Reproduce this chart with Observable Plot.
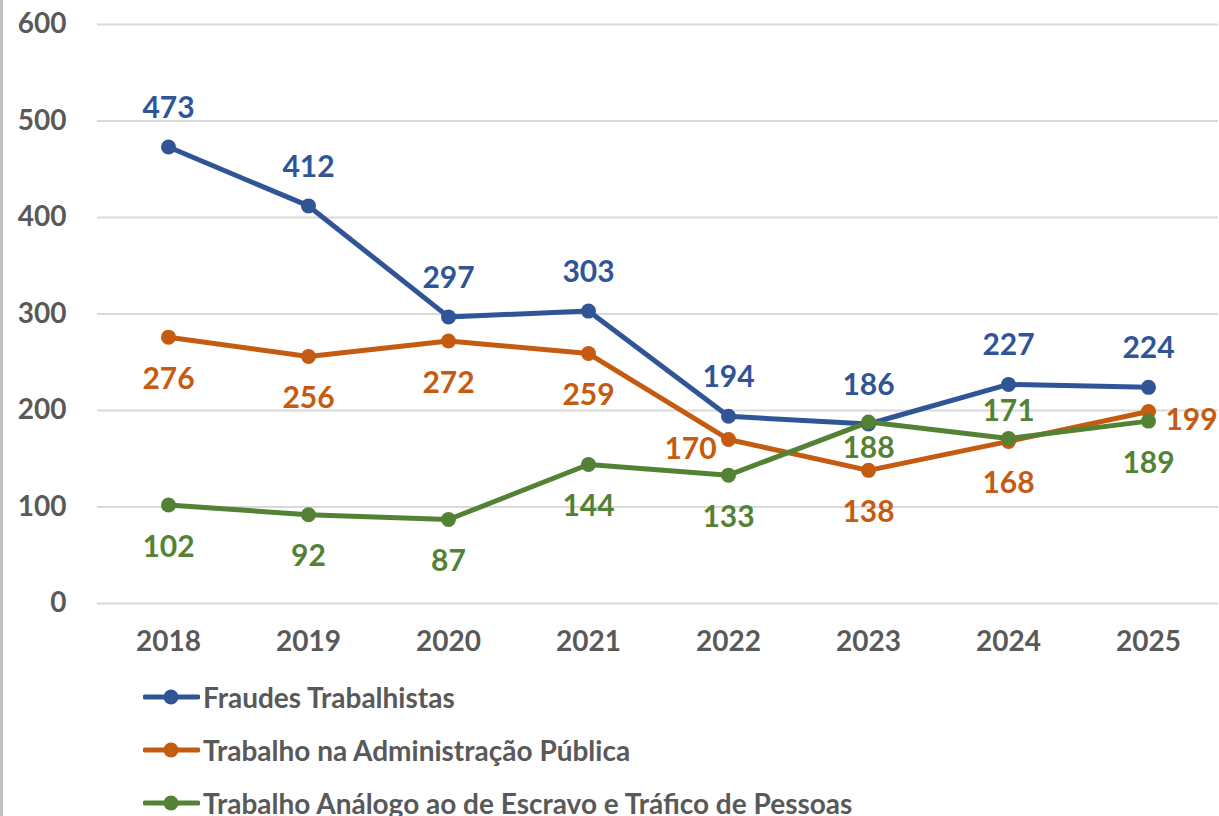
<!DOCTYPE html>
<html>
<head>
<meta charset="utf-8">
<script src="https://cdn.jsdelivr.net/npm/d3@7"></script>
<script src="https://cdn.jsdelivr.net/npm/@observablehq/plot@0.6"></script>
<style>
  html, body { margin: 0; padding: 0; background: #fff; overflow: hidden; }
  body { width: 1219px; height: 816px; position: relative; font-family: Lato, "Open Sans", sans-serif; }
  #border { position: absolute; left: 0; top: 0; width: 3px; height: 816px; background: #bfbfbf; }
  #legend { margin-left: 143px; }
  .item { height: 53px; display: flex; align-items: center; font-weight: 700; font-size: 28px; color: #595959; white-space: nowrap; }
  .item svg { margin-right: 3px; }
</style>
</head>
<body>
<div id="border"></div>
<div id="chart"></div>
<div id="legend"></div>
<script>
const years = ["2018", "2019", "2020", "2021", "2022", "2023", "2024", "2025"];
const seriesNames = [
  "Fraudes Trabalhistas",
  "Trabalho na Administração Pública",
  "Trabalho Análogo ao de Escravo e Tráfico de Pessoas"
];
const fraudes = [473, 412, 297, 303, 194, 186, 227, 224];
const administracao = [276, 256, 272, 259, 170, 138, 168, 199];
const escravo = [102, 92, 87, 144, 133, 188, 171, 189];
const colors = ["#2F5597", "#C55A11", "#548235"];
const yTicks = [0, 100, 200, 300, 400, 500, 600];

const seriesValues = [fraudes, administracao, escravo];
const data = [];
seriesValues.forEach((vals, s) => {
  vals.forEach((v, i) => data.push({ series: seriesNames[s], year: years[i], value: v, s }));
});

// label placement (default per series, with exceptions where labels would collide)
const defaultPlacement = ["above", "below", "below"];
function placement(d) {
  if (d.s === 1 && d.year === "2022") return "left";
  if (d.s === 1 && d.year === "2025") return "right";
  if (d.s === 2 && d.year === "2024") return "nearAbove";
  if (d.s === 2 && d.year === "2023") return "nearBelow";
  return defaultPlacement[d.s];
}
const offsets = {
  above: { dx: 0, dy: -39 },
  below: { dx: 0, dy: 42 },
  nearAbove: { dx: 0, dy: -27 },
  nearBelow: { dx: 0, dy: 26 },
  left: { dx: -38, dy: 10 },
  right: { dx: 43, dy: 9 }
};

const colorScale = { domain: seriesNames, range: colors };

const labelMarks = Object.entries(offsets).map(([key, o]) =>
  Plot.text(data.filter(d => placement(d) === key), {
    x: "year", y: "value", text: d => String(d.value), fill: "series",
    dx: o.dx, dy: o.dy, fontSize: 30, fontWeight: 700
  })
);

const chart = Plot.plot({
  width: 1219,
  height: 670,
  marginLeft: 97,
  marginRight: 1,
  marginTop: 24,
  marginBottom: 67,
  style: { fontFamily: "Lato, 'Open Sans', sans-serif", background: "transparent", overflow: "visible" },
  x: { type: "point", domain: years, padding: 0.5, label: null, tickSize: 0, tickPadding: 28 },
  y: { domain: [0, 600], ticks: yTicks, label: null, tickSize: 0, tickPadding: 31 },
  color: colorScale,
  marks: [
    Plot.ruleY(yTicks, { stroke: "#d9d9d9", strokeWidth: 2 }),
    Plot.axisX({ tickSize: 0, tickPadding: 28, fontSize: 28, fontWeight: 700, fill: "#595959", label: null }),
    Plot.axisY({ ticks: yTicks, tickSize: 0, tickPadding: 31, fontSize: 28, fontWeight: 700, fill: "#595959", label: null }),
    Plot.line(data, { x: "year", y: "value", z: "series", stroke: "series", strokeWidth: 5, strokeLinejoin: "round", strokeLinecap: "round" }),
    Plot.dot(data, { x: "year", y: "value", fill: "series", r: 7.5 }),
    ...labelMarks
  ]
});
document.getElementById("chart").appendChild(chart);

const legend = document.getElementById("legend");
seriesNames.forEach((name, i) => {
  const item = document.createElement("div");
  item.className = "item";
  item.innerHTML = `<svg width="57" height="16"><line x1="2" y1="8" x2="55" y2="8" stroke="${colors[i]}" stroke-width="5" stroke-linecap="round"/><circle cx="28" cy="8" r="7.5" fill="${colors[i]}"/></svg><span>${name}</span>`;
  legend.appendChild(item);
});
</script>
</body>
</html>
